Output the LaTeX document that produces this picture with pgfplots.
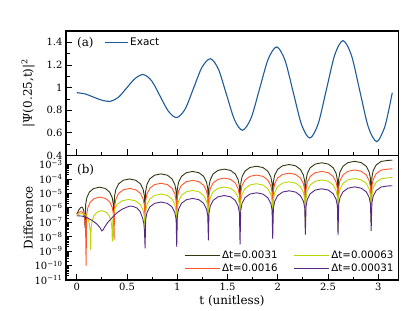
\documentclass[border=0pt]{standalone}
\usepackage{fontspec}
\setmainfont{DejaVu Serif}
\newfontfamily\legfont{DejaVu Sans}
\usepackage{pgfplots}
\pgfplotsset{compat=1.18}
\definecolor{cblue}{RGB}{31,90,155}
\definecolor{colive}{RGB}{48,56,16}
\definecolor{corange}{RGB}{255,85,40}
\definecolor{cyellow}{RGB}{185,215,0}
\definecolor{cpurple}{RGB}{85,40,135}

\pgfplotstableread{
t v
0 3.72e-7
0.02 7.08e-7
0.04 1.07e-6
0.05 1.12e-6
0.06 1.00e-6
0.07 6.31e-7
0.078 2.51e-7
0.083 3.98e-8
0.089 1.70e-6
0.100 5.01e-6
0.126 1.23e-5
0.169 2.19e-5
0.227 2.69e-5
0.284 2.19e-5
0.327 1.23e-5
0.353 5.01e-6
0.364 1.70e-6
0.370 3.16e-7
0.376 6.31e-6
0.389 1.86e-5
0.417 4.57e-5
0.463 8.13e-5
0.525 1.00e-4
0.587 8.13e-5
0.634 4.57e-5
0.661 1.86e-5
0.674 6.31e-6
0.680 5.01e-7
0.686 1.41e-5
0.699 4.17e-5
0.727 1.02e-4
0.775 1.82e-4
0.838 2.24e-4
0.901 1.82e-4
0.948 1.02e-4
0.976 4.17e-5
0.989 1.41e-5
0.995 6.31e-7
1.001 2.09e-5
1.014 6.17e-5
1.042 1.51e-4
1.090 2.69e-4
1.153 3.31e-4
1.216 2.69e-4
1.263 1.51e-4
1.291 6.17e-5
1.304 2.09e-5
1.310 1.00e-6
1.316 3.02e-5
1.329 8.91e-5
1.357 2.19e-4
1.405 3.89e-4
1.468 4.79e-4
1.531 3.89e-4
1.578 2.19e-4
1.606 8.91e-5
1.619 3.02e-5
1.625 1.00e-6
1.632 4.79e-5
1.645 1.41e-4
1.674 3.47e-4
1.723 6.17e-4
1.788 7.59e-4
1.853 6.17e-4
1.901 3.47e-4
1.931 1.41e-4
1.944 4.79e-5
1.950 1.26e-6
1.957 6.31e-5
1.970 1.86e-4
1.999 4.57e-4
2.048 8.13e-4
2.113 1.00e-3
2.178 8.13e-4
2.226 4.57e-4
2.256 1.86e-4
2.269 6.31e-5
2.275 1.58e-6
2.282 8.32e-5
2.295 2.45e-4
2.324 6.03e-4
2.373 1.07e-3
2.438 1.32e-3
2.503 1.07e-3
2.551 6.03e-4
2.581 2.45e-4
2.594 8.32e-5
2.600 2.00e-6
2.607 1.05e-4
2.620 3.09e-4
2.650 7.59e-4
2.699 1.35e-3
2.765 1.66e-3
2.831 1.35e-3
2.881 7.59e-4
2.910 3.09e-4
2.923 1.05e-4
2.930 2.51e-6
2.937 1.26e-4
2.950 3.72e-4
2.979 9.12e-4
3.028 1.62e-3
3.093 1.91e-3
3.140 2.00e-3
}\dataolive

\pgfplotstableread{
t v
0 3.55e-7
0.02 4.68e-7
0.04 5.37e-7
0.055 5.01e-7
0.07 3.16e-7
0.08 1.41e-7
0.088 3.16e-8
0.093 1.00e-10
0.099 3.47e-7
0.110 1.02e-6
0.135 2.51e-6
0.176 4.47e-6
0.232 5.50e-6
0.288 4.47e-6
0.329 2.51e-6
0.354 1.02e-6
0.365 3.47e-7
0.371 5.89e-9
0.377 1.38e-6
0.390 4.07e-6
0.417 1.00e-5
0.464 1.78e-5
0.526 2.19e-5
0.587 1.78e-5
0.634 1.00e-5
0.661 4.07e-6
0.674 1.38e-6
0.680 1.00e-7
0.686 3.16e-6
0.699 9.33e-6
0.727 2.29e-5
0.775 4.07e-5
0.838 5.01e-5
0.901 4.07e-5
0.948 2.29e-5
0.976 9.33e-6
0.989 3.16e-6
0.995 1.26e-7
1.001 5.01e-6
1.014 1.48e-5
1.042 3.63e-5
1.090 6.46e-5
1.153 7.94e-5
1.216 6.46e-5
1.263 3.63e-5
1.291 1.48e-5
1.304 5.01e-6
1.310 2.00e-7
1.316 7.24e-6
1.329 2.14e-5
1.357 5.25e-5
1.405 9.33e-5
1.468 1.15e-4
1.531 9.33e-5
1.578 5.25e-5
1.606 2.14e-5
1.619 7.24e-6
1.625 2.00e-7
1.632 1.17e-5
1.645 3.47e-5
1.674 8.51e-5
1.723 1.51e-4
1.788 1.86e-4
1.853 1.51e-4
1.901 8.51e-5
1.931 3.47e-5
1.944 1.17e-5
1.950 3.16e-7
1.957 1.58e-5
1.970 4.68e-5
1.999 1.15e-4
2.048 2.04e-4
2.113 2.51e-4
2.178 2.04e-4
2.226 1.15e-4
2.256 4.68e-5
2.269 1.58e-5
2.275 3.98e-7
2.282 2.09e-5
2.295 6.17e-5
2.324 1.51e-4
2.373 2.69e-4
2.438 3.31e-4
2.503 2.69e-4
2.551 1.51e-4
2.581 6.17e-5
2.594 2.09e-5
2.600 5.01e-7
2.607 2.63e-5
2.620 7.76e-5
2.650 1.91e-4
2.699 3.39e-4
2.765 4.17e-4
2.831 3.39e-4
2.881 1.91e-4
2.910 7.76e-5
2.923 2.63e-5
2.930 6.31e-7
2.937 3.16e-5
2.950 9.33e-5
2.979 2.29e-4
3.028 4.07e-4
3.093 4.79e-4
3.140 5.01e-4
}\dataorange

\pgfplotstableread{
t v
0 3.16e-7
0.03 3.80e-7
0.06 3.98e-7
0.09 3.16e-7
0.11 2.00e-7
0.125 7.94e-8
0.134 2.51e-8
0.139 1.20e-9
0.143 3.98e-8
0.152 1.17e-7
0.171 2.88e-7
0.204 5.13e-7
0.247 6.31e-7
0.290 5.13e-7
0.322 2.88e-7
0.341 1.17e-7
0.350 3.98e-8
0.354 4.68e-9
0.361 2.40e-7
0.374 7.08e-7
0.403 1.74e-6
0.452 3.09e-6
0.517 3.80e-6
0.582 3.09e-6
0.631 1.74e-6
0.660 7.08e-7
0.673 2.40e-7
0.680 3.16e-8
0.686 5.62e-7
0.699 1.66e-6
0.727 4.07e-6
0.775 7.24e-6
0.838 8.91e-6
0.901 7.24e-6
0.948 4.07e-6
0.976 1.66e-6
0.989 5.62e-7
0.995 1.58e-8
1.001 1.00e-6
1.014 2.95e-6
1.042 7.24e-6
1.090 1.29e-5
1.153 1.58e-5
1.216 1.29e-5
1.263 7.24e-6
1.291 2.95e-6
1.304 1.00e-6
1.310 2.51e-8
1.316 1.74e-6
1.329 5.13e-6
1.357 1.26e-5
1.405 2.24e-5
1.468 2.75e-5
1.531 2.24e-5
1.578 1.26e-5
1.606 5.13e-6
1.619 1.74e-6
1.625 3.16e-8
1.632 2.95e-6
1.645 8.71e-6
1.674 2.14e-5
1.723 3.80e-5
1.788 4.68e-5
1.853 3.80e-5
1.901 2.14e-5
1.931 8.71e-6
1.944 2.95e-6
1.950 5.01e-8
1.957 3.98e-6
1.970 1.17e-5
1.999 2.88e-5
2.048 5.13e-5
2.113 6.31e-5
2.178 5.13e-5
2.226 2.88e-5
2.256 1.17e-5
2.269 3.98e-6
2.275 3.55e-8
2.282 5.37e-6
2.295 1.58e-5
2.324 3.89e-5
2.373 6.92e-5
2.438 8.51e-5
2.503 6.92e-5
2.551 3.89e-5
2.581 1.58e-5
2.594 5.37e-6
2.600 2.51e-8
2.607 6.76e-6
2.620 2.00e-5
2.650 4.90e-5
2.699 8.71e-5
2.765 1.07e-4
2.831 8.71e-5
2.881 4.90e-5
2.910 2.00e-5
2.923 6.76e-6
2.930 1.00e-7
2.937 7.94e-6
2.950 2.34e-5
2.979 5.75e-5
3.028 1.02e-4
3.093 1.20e-4
3.140 1.26e-4
}\datayellow

\pgfplotstableread{
t v
0 2.82e-7
0.05 2.69e-7
0.1 2.09e-7
0.15 1.38e-7
0.2 7.59e-8
0.23 4.37e-8
0.25 2.51e-8
0.26 2.82e-8
0.28 5.01e-8
0.31 1.00e-7
0.35 2.00e-7
0.40 4.47e-7
0.45 7.94e-7
0.50 1.12e-6
0.53 1.32e-6
0.56 1.26e-6
0.60 9.55e-7
0.63 5.62e-7
0.655 2.00e-7
0.668 7.94e-8
0.674 2.51e-8
0.680 1.58e-9
0.686 1.58e-7
0.699 4.68e-7
0.727 1.15e-6
0.775 2.04e-6
0.838 2.51e-6
0.901 2.04e-6
0.948 1.15e-6
0.976 4.68e-7
0.989 1.58e-7
0.995 2.00e-9
1.001 2.82e-7
1.014 8.32e-7
1.042 2.04e-6
1.090 3.63e-6
1.153 4.47e-6
1.216 3.63e-6
1.263 2.04e-6
1.291 8.32e-7
1.304 2.82e-7
1.310 5.50e-9
1.316 4.47e-7
1.329 1.32e-6
1.357 3.24e-6
1.405 5.75e-6
1.468 7.08e-6
1.531 5.75e-6
1.578 3.24e-6
1.606 1.32e-6
1.619 4.47e-7
1.625 2.88e-9
1.632 6.92e-7
1.645 2.04e-6
1.674 5.01e-6
1.723 8.91e-6
1.788 1.10e-5
1.853 8.91e-6
1.901 5.01e-6
1.931 2.04e-6
1.944 6.92e-7
1.950 7.24e-9
1.957 9.55e-7
1.970 2.82e-6
1.999 6.92e-6
2.048 1.23e-5
2.113 1.51e-5
2.178 1.23e-5
2.226 6.92e-6
2.256 2.82e-6
2.269 9.55e-7
2.275 1.41e-8
2.282 1.32e-6
2.295 3.89e-6
2.324 9.55e-6
2.373 1.70e-5
2.438 2.09e-5
2.503 1.70e-5
2.551 9.55e-6
2.581 3.89e-6
2.594 1.32e-6
2.600 1.26e-8
2.607 1.78e-6
2.620 5.25e-6
2.650 1.29e-5
2.699 2.29e-5
2.765 2.82e-5
2.831 2.29e-5
2.881 1.29e-5
2.910 5.25e-6
2.923 1.78e-6
2.930 2.51e-8
2.937 2.14e-6
2.950 6.31e-6
2.979 1.55e-5
3.028 2.75e-5
3.093 3.24e-5
3.140 3.39e-5
}\datapurple

\begin{document}
\begin{tikzpicture}
\useasboundingbox (-66bp,-31bp) rectangle (349bp,280bp);
\pgfplotsset{
  every axis/.append style={
    scale only axis, width=332.7bp, height=124.5bp,
    xmin=-0.107, xmax=3.204,
    tick align=inside, xtick pos=bottom, ytick pos=left,
    major tick length=6bp, minor tick length=3.5bp,
    axis line style={line width=1.1pt},
    every tick/.append style={black, line width=0.8pt},
    tick label style={font=\fontsize{10}{12}\selectfont},
    label style={font=\fontsize{12}{14}\selectfont},
    xtick={0,0.5,1,1.5,2,2.5,3}, minor x tick num=1,
  }
}
\begin{axis}[
  at={(0,124.5bp)}, anchor=south west,
  ymin=0.4, ymax=1.5,
  ytick={0.4,0.6,0.8,1,1.2,1.4},
  yticklabels={0.4,0.6,0.8,1,1.2,1.4},
  minor y tick num=1,
  xticklabels={},
  ylabel={|Ψ(0.25,t)|\textsuperscript{2}},
  ylabel style={at={(axis description cs:-0.114,0.5)}, anchor=center},
  legend style={at={(axis description cs:0.105,0.906)}, anchor=west, draw=none, fill=none,
    font=\legfont\fontsize{10.5}{12}\selectfont},
  legend image code/.code={\draw[#1] (0bp,0bp) -- (23bp,0bp);},
]
\addplot[cblue, line width=1.1pt, smooth] coordinates {
(0,0.955) (0.0825,0.944) (0.165,0.9165) (0.2475,0.8893) (0.33,0.878)
(0.413,0.913) (0.4965,0.9965) (0.58,1.080) (0.663,1.115)
(0.746,1.059) (0.829,0.925) (0.912,0.791) (0.995,0.735)
(1.079,0.811) (1.1625,0.995) (1.246,1.179) (1.33,1.255)
(1.41,1.1625) (1.49,0.939) (1.57,0.7155) (1.65,0.623)
(1.735,0.731) (1.82,0.991) (1.905,1.251) (1.99,1.359)
(2.0725,1.241) (2.155,0.9565) (2.2375,0.672) (2.32,0.554)
(2.4025,0.680) (2.485,0.9845) (2.5675,1.289) (2.65,1.415)
(2.734,1.2843) (2.8175,0.9685) (2.901,0.653) (2.985,0.522)
(3.06,0.64) (3.10,0.78) (3.14,0.955)
};
\addlegendentry{Exact}
\node[anchor=west, inner sep=0pt, font=\fontsize{12}{14}\selectfont] at (rel axis cs:0.033,0.906) {(a)};
\end{axis}

\begin{axis}[
  at={(0,0)}, anchor=south west,
  ymode=log, ymin=1e-11, ymax=4.2e-3,
  ytick={1e-11,1e-10,1e-9,1e-8,1e-7,1e-6,1e-5,1e-4,1e-3},
  yticklabels={10\textsuperscript{−11},10\textsuperscript{−10},10\textsuperscript{−9},10\textsuperscript{−8},10\textsuperscript{−7},10\textsuperscript{−6},10\textsuperscript{−5},10\textsuperscript{−4},10\textsuperscript{−3}},
  xticklabels={0,0.5,1,1.5,2,2.5,3},
  xlabel={t (unitless)},
  xlabel style={at={(axis description cs:0.499,-0.169)}, anchor=center},
  ylabel={Difference},
  ylabel style={at={(axis description cs:-0.114,0.5)}, anchor=center},
  legend columns=2,
  legend style={at={(axis description cs:1,0.025)}, anchor=south east, draw=none, fill=none,
    font=\legfont\fontsize{10.3}{11}\selectfont, row sep=0pt,
    /tikz/every even column/.append style={column sep=14bp}},
  legend image code/.code={\draw[#1] (0bp,0bp) -- (35bp,0bp);},
]
\addplot[colive, line width=0.9pt, forget plot] table[x=t,y=v] {\dataolive};
\addplot[corange, line width=0.9pt, forget plot] table[x=t,y=v] {\dataorange};
\addplot[cyellow, line width=0.9pt, forget plot] table[x=t,y=v] {\datayellow};
\addplot[cpurple, line width=0.9pt, forget plot] table[x=t,y=v] {\datapurple};
\addlegendimage{colive, line width=0.9pt}
\addlegendimage{cyellow, line width=0.9pt}
\addlegendimage{corange, line width=0.9pt}
\addlegendimage{cpurple, line width=0.9pt}
\legend{Δt=0.0031, Δt=0.00063, Δt=0.0016, Δt=0.00031}
\node[anchor=west, inner sep=0pt, font=\fontsize{12}{14}\selectfont] at (rel axis cs:0.033,0.887) {(b)};
\end{axis}
\end{tikzpicture}
\end{document}
